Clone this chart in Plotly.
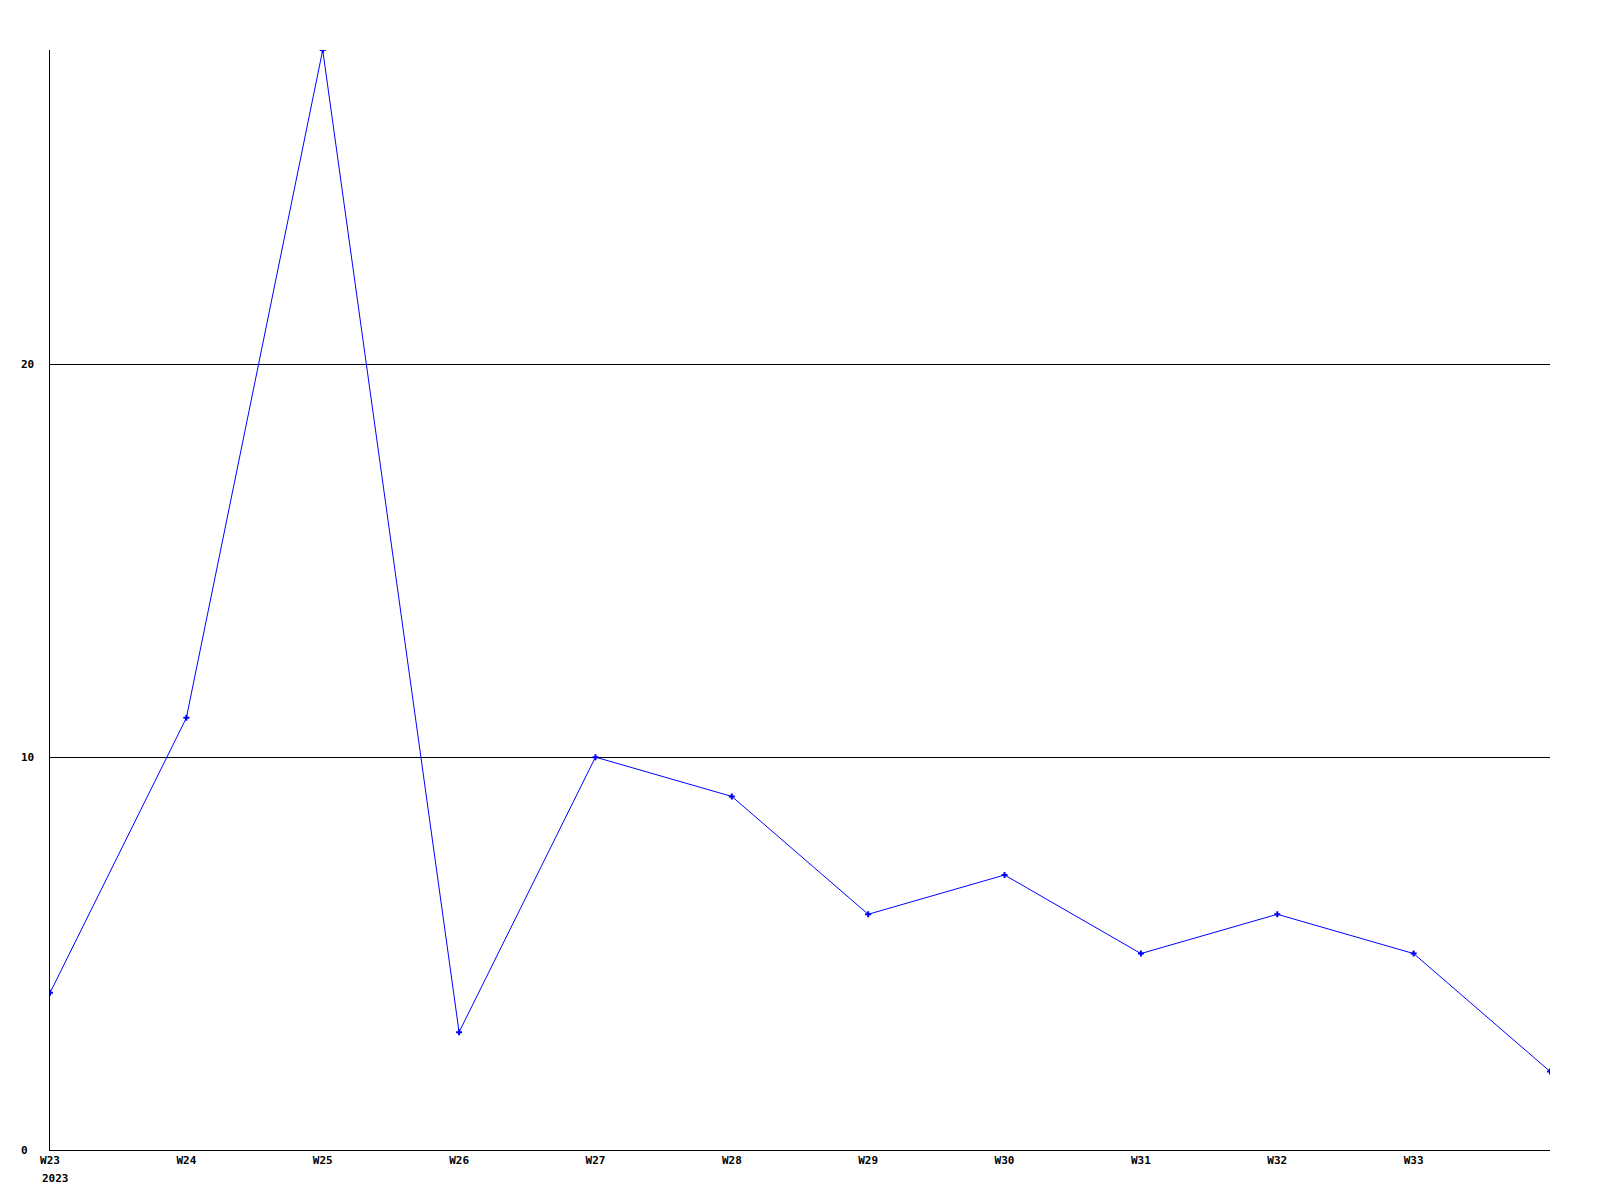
import plotly.graph_objects as go

weeks = ["W23", "W24", "W25", "W26", "W27", "W28", "W29", "W30", "W31", "W32", "W33", "W34"]
counts = [4, 11, 28, 3, 10, 9, 6, 7, 5, 6, 5, 2]
tick_weeks = weeks[:-1]
y_ticks = [0, 10, 20]
year_label = "2023"

font = dict(family="DejaVu Sans Mono", size=11, color="black", weight="bold")

fig = go.Figure()
fig.add_trace(go.Scatter(
    x=list(range(len(weeks))),
    y=counts,
    mode="lines+markers",
    line=dict(color="#0000ff", width=1),
    marker=dict(symbol="cross", size=5, color="#0000ff", line=dict(width=0)),
    hoverinfo="skip",
))

# y labels are left-aligned in the original, so draw them as annotations
annotations = []
for v in y_ticks:
    annotations.append(dict(
        text=str(v), xref="paper", x=0, xshift=-31, xanchor="left",
        yref="y", y=v, yanchor="middle", showarrow=False, font=font,
    ))
annotations.append(dict(
    text=year_label, xref="x", x=0, xshift=-10, xanchor="left",
    yref="paper", y=0, yshift=-20, yanchor="top", showarrow=False, font=font,
))

# page body has an 8px margin, so the margins are offset to put the plot
# area at 50..1550 x 50..1150 in the window
fig.update_layout(
    width=1600, height=1200,
    margin=dict(l=42, r=58, t=42, b=58),
    plot_bgcolor="white", paper_bgcolor="white",
    showlegend=False,
    annotations=annotations,
    xaxis=dict(
        range=[0, len(weeks) - 1],
        tickvals=list(range(len(tick_weeks))),
        ticktext=tick_weeks,
        showgrid=False, zeroline=False,
        showline=True, linecolor="black", linewidth=1,
        ticks="", tickfont=font, ticklabelstandoff=0,
    ),
    yaxis=dict(
        range=[0, 28],
        tickvals=y_ticks,
        showticklabels=False,
        showgrid=True, gridcolor="black", gridwidth=1,
        zeroline=False,
        showline=True, linecolor="black", linewidth=1,
        ticks="",
    ),
)

fig.write_html("out.html")
